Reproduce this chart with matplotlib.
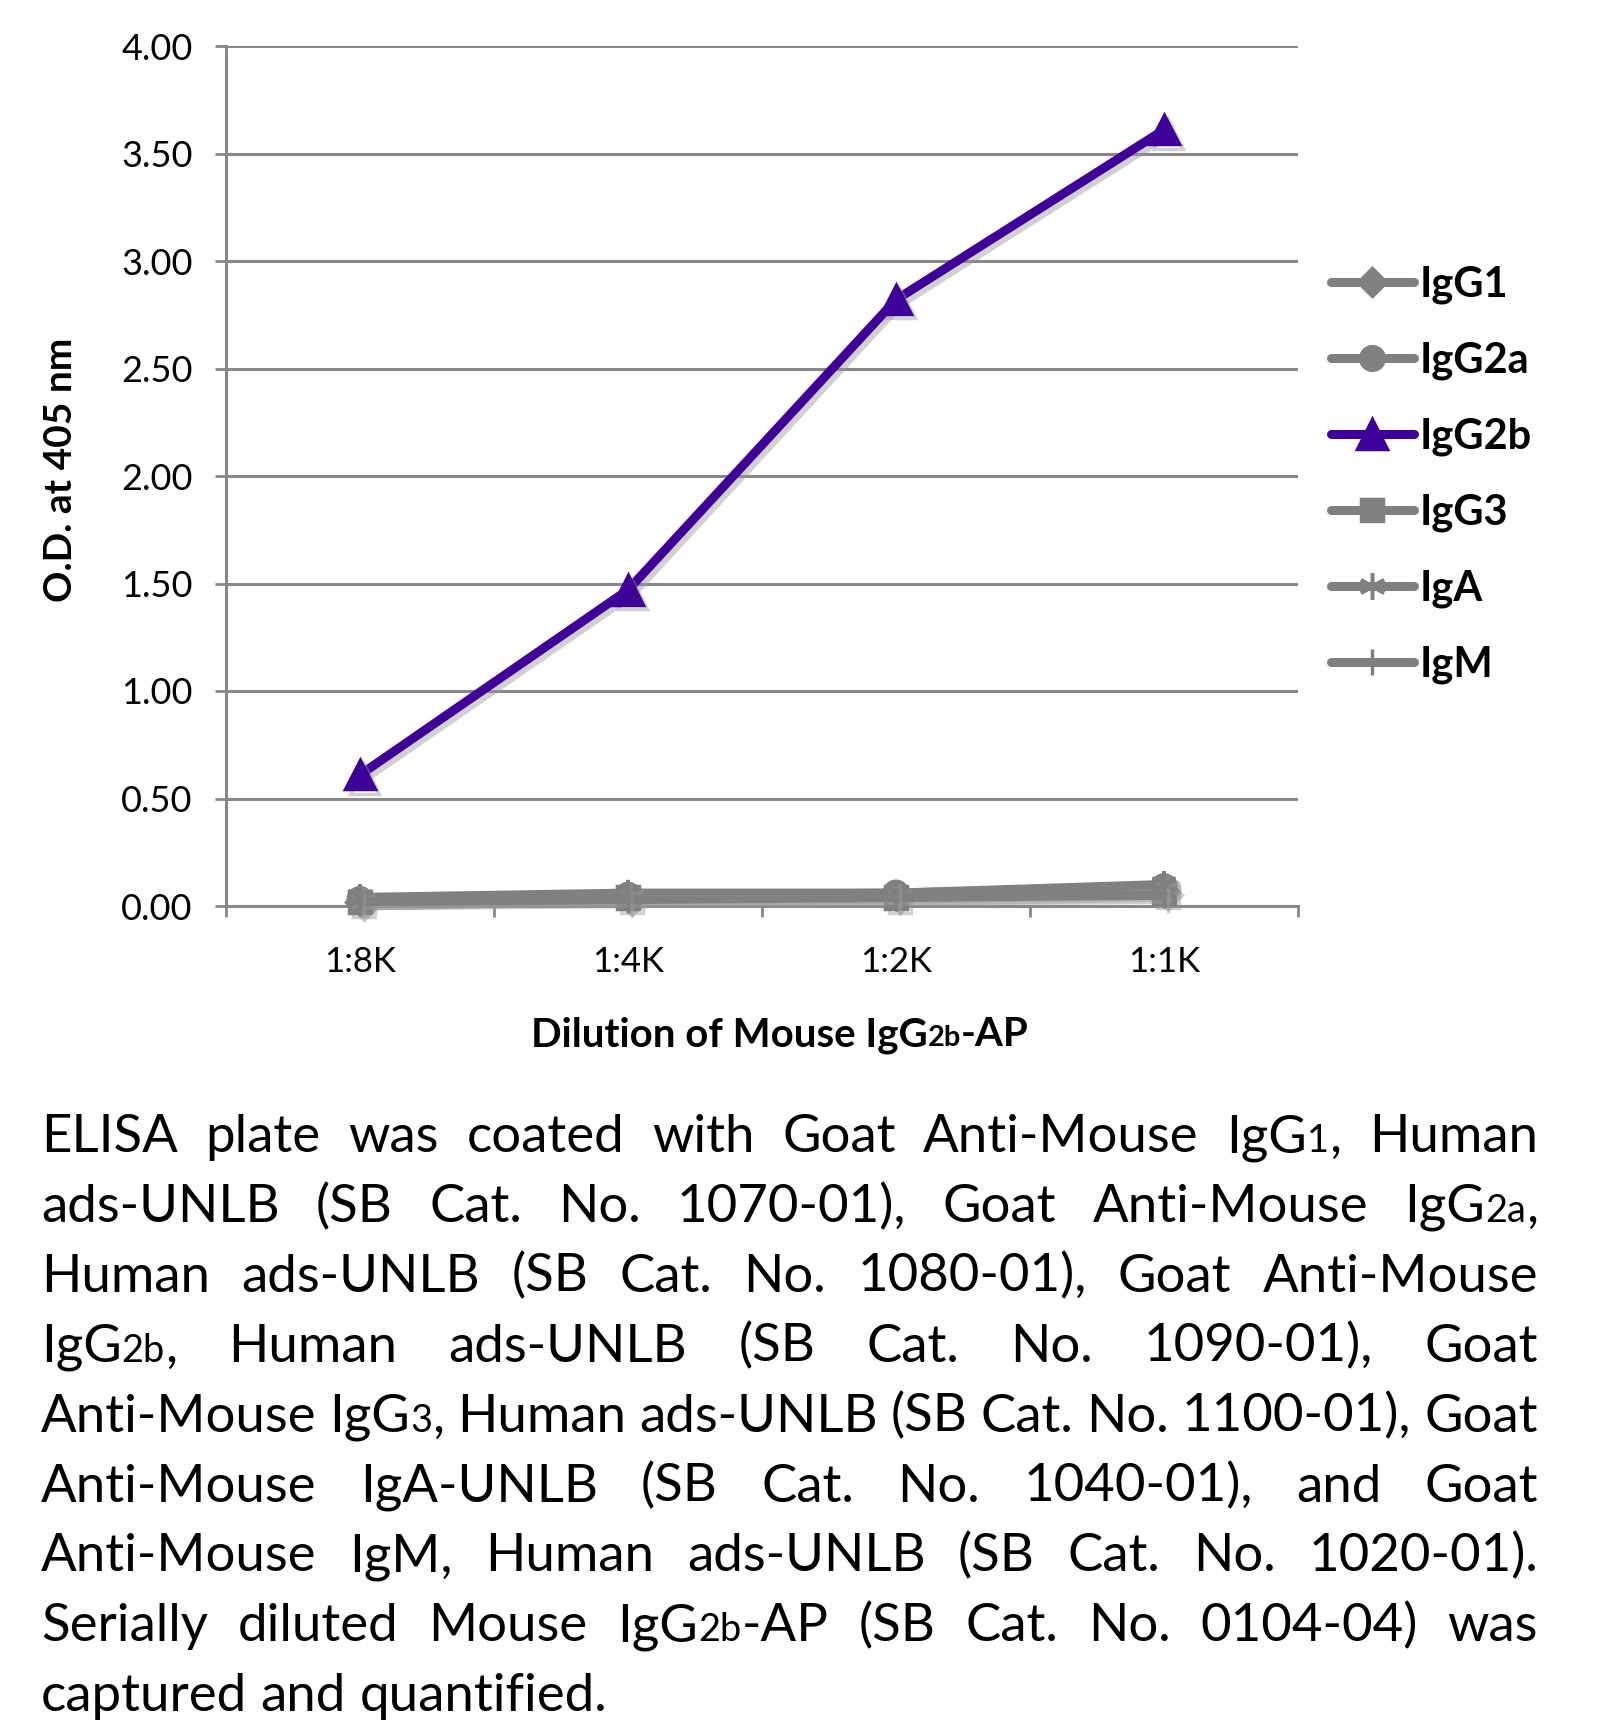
import matplotlib
matplotlib.use("Agg")
import matplotlib.pyplot as plt
import matplotlib.patheffects as pe
from matplotlib.lines import Line2D

W, H, DPI = 1608, 1728, 100

# ---- data ----
dilutions = ["1:8K", "1:4K", "1:2K", "1:1K"]
igg1 = [0.02, 0.04, 0.05, 0.07]
igg2a = [0.03, 0.05, 0.06, 0.09]
igg2b = [0.61, 1.47, 2.82, 3.61]
igg3 = [0.02, 0.04, 0.04, 0.06]
iga = [0.04, 0.06, 0.06, 0.10]
igm = [0.02, 0.03, 0.04, 0.05]
y_ticks = [0.0, 0.5, 1.0, 1.5, 2.0, 2.5, 3.0, 3.5, 4.0]

GRAY = "#808080"
PURPLE = "#3f0099"
GRID = "#888888"
ASTER = (6, 2, 0)

series = [
    ("IgG1", igg1, GRAY, "D", 14),
    ("IgG2a", igg2a, GRAY, "o", 17),
    ("IgG3", igg3, GRAY, "s", 16),
    ("IgA", iga, GRAY, ASTER, 19),
    ("IgM", igm, GRAY, "|", 19),
    ("IgG2b", igg2b, PURPLE, "^", 21),
]
legend_order = ["IgG1", "IgG2a", "IgG2b", "IgG3", "IgA", "IgM"]

# {..} marks the small (subscript-looking) characters
caption = [
    "ELISA plate was coated with Goat Anti-Mouse IgG{1}, Human",
    "ads-UNLB (SB Cat. No. 1070-01), Goat Anti-Mouse IgG{2a},",
    "Human ads-UNLB (SB Cat. No. 1080-01), Goat Anti-Mouse",
    "IgG{2b}, Human ads-UNLB (SB Cat. No. 1090-01), Goat",
    "Anti-Mouse IgG{3}, Human ads-UNLB (SB Cat. No. 1100-01), Goat",
    "Anti-Mouse IgA-UNLB (SB Cat. No. 1040-01), and Goat",
    "Anti-Mouse IgM, Human ads-UNLB (SB Cat. No. 1020-01).",
    "Serially diluted Mouse IgG{2b}-AP (SB Cat. No. 0104-04) was",
    "captured and quantified.",
]
xlabel = "Dilution of Mouse IgG{2b}-AP"
ylabel = "O.D. at 405 nm"

FONT = "Lato"

fig = plt.figure(figsize=(W / DPI, H / DPI), dpi=DPI)
renderer = fig.canvas.get_renderer()


def runs_of(s):
    out, buf, small = [], "", False
    for ch in s:
        if ch in "{}":
            if buf:
                out.append((buf, small))
            buf, small = "", ch == "{"
        else:
            buf += ch
    if buf:
        out.append((buf, small))
    return out


def text_w(s, size, weight="normal"):
    t = fig.text(0, 0, s, fontsize=size, family=FONT, weight=weight)
    w = t.get_window_extent(renderer).width
    t.remove()
    return w


def runs_w(runs, size, weight="normal"):
    return sum(text_w(s, size * (0.72 if sm else 1), weight) for s, sm in runs)


def draw_runs(x, y, runs, size, weight="normal"):
    # x, y in pixels from top-left, y is the baseline
    for s, sm in runs:
        fs = size * (0.72 if sm else 1)
        fig.text(x / W, 1 - y / H, s, fontsize=fs, family=FONT, weight=weight,
                 ha="left", va="baseline")
        x += text_w(s, fs, weight)


# ---- plot area ----
ax = fig.add_axes([226 / W, 1 - 906 / H, (1298 - 226) / W, (906 - 46) / H])
xs = range(len(dilutions))
shadow = [pe.SimpleLineShadow(offset=(3, -3), shadow_color="#999999", alpha=0.45), pe.Normal()]
for name, vals, col, mk, ms in series:
    ax.plot(xs, vals, color=col, lw=6.5, marker=mk, ms=ms, mew=2.5,
            mfc=col, mec=col, clip_on=False, zorder=3, path_effects=shadow,
            solid_capstyle="round")

ax.set_xlim(-0.5, len(dilutions) - 0.5)
ax.set_ylim(0, 4)
ax.set_yticks(y_ticks)
ax.set_yticklabels([f"{v:.2f}" for v in y_ticks])
ax.yaxis.grid(True, color=GRID, lw=2.2)
ax.set_axisbelow(True)
for sp in ("top", "right"):
    ax.spines[sp].set_visible(False)
for sp in ("left", "bottom"):
    ax.spines[sp].set_color(GRID)
    ax.spines[sp].set_linewidth(2.2)
ax.set_xticks([i - 0.5 for i in range(len(dilutions) + 1)])
ax.set_xticklabels([])
ax.set_xticks(list(xs), minor=True)
ax.set_xticklabels(dilutions, minor=True, fontsize=25, family=FONT)
ax.tick_params(axis="x", which="major", length=8, width=2, color=GRID)
ax.tick_params(axis="x", which="minor", length=0, pad=29)
ax.tick_params(axis="y", length=8, width=2, color=GRID, pad=16, labelsize=26)
for lb in ax.get_yticklabels():
    lb.set_family(FONT)

# legend (no shadows on the handles)
handles = []
for name in legend_order:
    _, _, col, mk, ms = next(s for s in series if s[0] == name)
    handles.append(Line2D([], [], color=col, lw=6.5, marker=mk, ms=ms, mew=2.5,
                          mfc=col, mec=col, solid_capstyle="round"))
ax.legend(handles, legend_order, loc="upper left", frameon=False,
          bbox_to_anchor=(1310 / W, 1 - 245 / H), bbox_transform=fig.transFigure,
          prop={"family": FONT, "weight": "bold", "size": 30},
          handlelength=2.0, handletextpad=0.12, labelspacing=0.9, borderpad=0)

# axis titles
fig.text(61 / W, 1 - 470 / H, ylabel, rotation=90, ha="center", va="center",
         fontsize=28, family=FONT, weight="bold")
xl = runs_of(xlabel)
draw_runs(780 - runs_w(xl, 29, "bold") / 2, 1046, xl, 29, "bold")

# ---- justified caption ----
L, R = 41, 1538
cap_size = 38
for i, line in enumerate(caption):
    y = 1152 + 69.9 * i
    words = [runs_of(w) for w in line.split(" ")]
    widths = [runs_w(w, cap_size) for w in words]
    if i < len(caption) - 1:
        gap = (R - L - sum(widths)) / (len(words) - 1)
    else:
        gap = text_w("a b", cap_size) - text_w("ab", cap_size)
    x = L
    for w, wd in zip(words, widths):
        draw_runs(x, y, w, cap_size)
        x += wd + gap

fig.savefig("out.png", dpi=DPI)
